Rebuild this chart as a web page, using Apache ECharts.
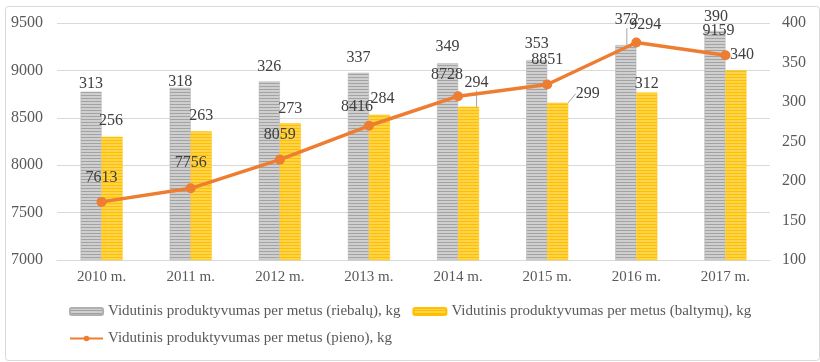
<!DOCTYPE html>
<html>
<head>
<meta charset="utf-8">
<script src="https://cdn.jsdelivr.net/npm/echarts@6/dist/echarts.min.js"></script>
<style>
  html, body { margin: 0; padding: 0; background: #ffffff; }
  #chart { width: 820px; height: 362px; }
</style>
</head>
<body>
<div id="chart"></div>
<script>
// ---- Data ----
const categories = ['2010 m.', '2011 m.', '2012 m.', '2013 m.', '2014 m.', '2015 m.', '2016 m.', '2017 m.'];
const fatValues = [313, 318, 326, 337, 349, 353, 372, 390];       // riebalų, kg (right axis)
const proteinValues = [256, 263, 273, 284, 294, 299, 312, 340];   // baltymų, kg (right axis)
const milkValues = [7613, 7756, 8059, 8416, 8728, 8851, 9294, 9159]; // pieno, kg (left axis)
const seriesNames = [
  'Vidutinis produktyvumas per metus (riebalų), kg',
  'Vidutinis produktyvumas per metus (baltymų), kg',
  'Vidutinis produktyvumas per metus (pieno), kg'
];

// ---- Label placement tweaks (style only) ----
const fatLabelShift = [[0,-8],[0,-6],[0,-15],[0,-15],[0,-16],[0,-16],[1,-25],[1,-14]];
const proteinLabelShift = [[-1,-15.5],[0,-15],[0,-15],[3,-15.5],[8,-24],[30,-9],[0,-8.5],[6,-16]];
const milkLabelShift = [[0,-19.5],[0,-20.5],[0,-20],[-12,-14],[-11,-16],[0,-20],[9,-12.5],[-7,-20]];
const fatLeader = [6];
const proteinLeader = [4, 5];

function stripes(c1, c2, h1, h2) {
  const cv = document.createElement('canvas');
  cv.width = 4; cv.height = h1 + h2;
  const ctx = cv.getContext('2d');
  ctx.fillStyle = c1; ctx.fillRect(0, 0, 4, h1);
  ctx.fillStyle = c2; ctx.fillRect(0, h1, 4, h2);
  return cv;
}
const greyPattern = { image: stripes('#cfcfcf', '#a3a3a3', 2, 1), repeat: 'repeat' };
const yellowPattern = { image: stripes('#ffd44d', '#ffbf00', 2, 1), repeat: 'repeat' };

const FONT = '"Liberation Serif", "Times New Roman", serif';

function barData(values, leaders) {
  return values.map((v, i) => leaders.indexOf(i) >= 0
    ? { value: v, labelLine: { show: true } }
    : { value: v });
}

const chart = echarts.init(document.getElementById('chart'), null, { renderer: 'canvas' });
chart.setOption({
  animation: false,
  backgroundColor: '#ffffff',
  textStyle: { fontFamily: FONT },
  graphic: [{
    type: 'rect', left: 3, top: 4, z: -1,
    shape: { width: 814, height: 354, r: 3 },
    style: { fill: 'none', stroke: '#d9d9d9', lineWidth: 1 }
  }],
  grid: { left: 57, right: 50, top: 23, bottom: 102, containLabel: false },
  legend: {
    left: 64, top: 299, width: 710,
    itemWidth: 33, itemHeight: 7, itemGap: 12,
    textStyle: { fontFamily: FONT, fontSize: 15, color: '#595959' },
    data: [
      { name: seriesNames[0] },
      { name: seriesNames[1] },
      { name: seriesNames[2], itemStyle: { color: '#ed7d31' } }
    ]
  },
  xAxis: {
    type: 'category', data: categories,
    axisLine: { show: true, lineStyle: { color: '#d9d9d9', width: 1 } },
    axisTick: { show: false },
    axisLabel: { fontFamily: FONT, fontSize: 15, color: '#595959', margin: 10 }
  },
  yAxis: [{
    type: 'value', min: 7000, max: 9500, interval: 500,
    axisLine: { show: false }, axisTick: { show: false },
    splitLine: { lineStyle: { color: '#d9d9d9', width: 1 } },
    axisLabel: { fontFamily: FONT, fontSize: 16, color: '#595959', margin: 14,
      formatter: function (v) { return String(v); } }
  }, {
    type: 'value', min: 100, max: 400, interval: 50, position: 'right',
    axisLine: { show: false }, axisTick: { show: false },
    splitLine: { show: false },
    axisLabel: { fontFamily: FONT, fontSize: 16, color: '#595959', margin: 12,
      formatter: function (v) { return String(v); } }
  }],
  series: [{
    name: seriesNames[0], type: 'bar', yAxisIndex: 1,
    data: barData(fatValues, fatLeader),
    barWidth: 21, barGap: '0%',
    itemStyle: { color: greyPattern, borderColor: '#b0b0b0', borderWidth: 0.5 },
    label: { show: true, position: 'top', distance: 0, verticalAlign: 'middle',
      fontFamily: FONT, fontSize: 16, color: '#404040' },
    labelLine: { show: false, lineStyle: { color: '#a6a6a6', width: 1 } },
    labelLayout: function (p) { const s = fatLabelShift[p.dataIndex]; return { dx: s[0], dy: s[1] }; }
  }, {
    name: seriesNames[1], type: 'bar', yAxisIndex: 1,
    data: barData(proteinValues, proteinLeader),
    barWidth: 21, barGap: '0%',
    itemStyle: { color: yellowPattern, borderColor: '#ffc000', borderWidth: 0.5 },
    label: { show: true, position: 'top', distance: 0, verticalAlign: 'middle',
      fontFamily: FONT, fontSize: 16, color: '#404040' },
    labelLine: { show: false, lineStyle: { color: '#a6a6a6', width: 1 } },
    labelLayout: function (p) { const s = proteinLabelShift[p.dataIndex]; return { dx: s[0], dy: s[1] }; }
  }, {
    name: seriesNames[2], type: 'line', yAxisIndex: 0,
    data: milkValues, z: 5,
    symbol: 'circle', symbolSize: 10,
    lineStyle: { color: '#ed7d31', width: 3.5 },
    itemStyle: { color: '#ed7d31' },
    label: { show: true, position: 'top', distance: 0, verticalAlign: 'middle',
      fontFamily: FONT, fontSize: 16, color: '#404040' },
    labelLayout: function (p) { const s = milkLabelShift[p.dataIndex]; return { dx: s[0], dy: s[1] }; }
  }]
});
</script>
</body>
</html>
